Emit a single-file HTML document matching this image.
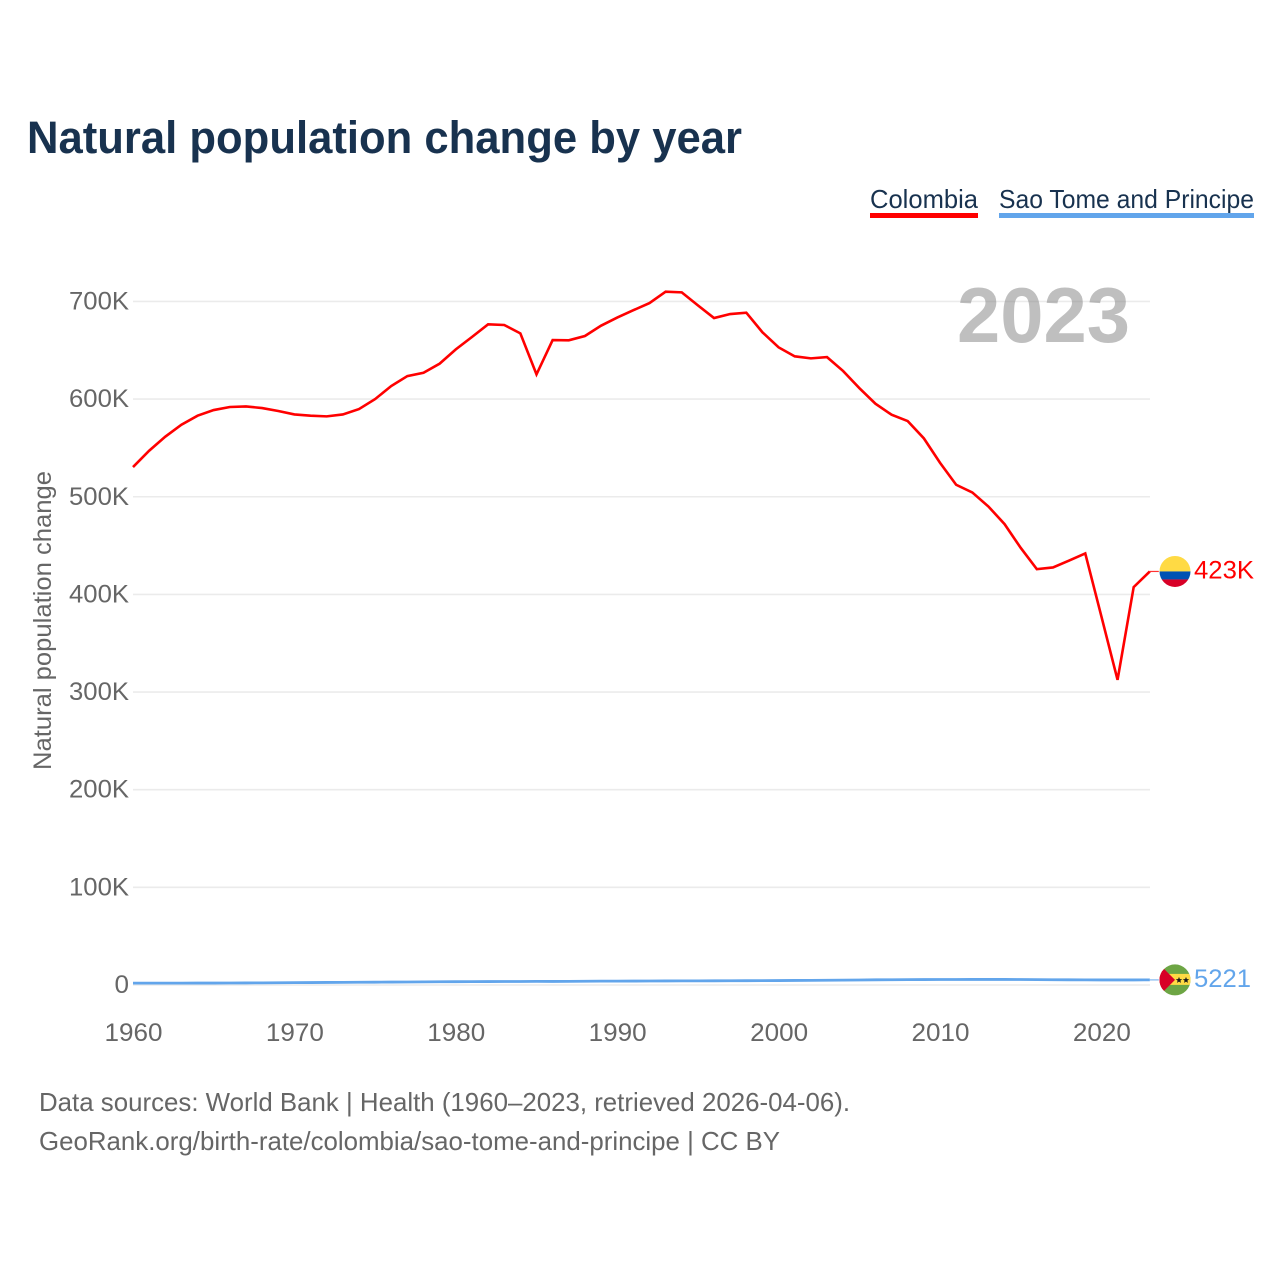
<!DOCTYPE html>
<html lang="en">
<head>
<meta charset="utf-8">
<title>Natural population change by year</title>
<style>
html,body{margin:0;padding:0;background:#fff;}
svg{display:block;font-family:"Liberation Sans",sans-serif;}
</style>
</head>
<body>
<svg id="chart" xmlns="http://www.w3.org/2000/svg" width="1280" height="1280" viewBox="0 0 1280 1280">
  <rect x="0" y="0" width="1280" height="1280" fill="#ffffff"/>
  <text x="27" y="153" font-size="45" font-weight="700" fill="#18324f" textLength="715" lengthAdjust="spacingAndGlyphs">Natural population change by year</text>
  <text x="870" y="208" font-size="26" fill="#18324f" textLength="108" lengthAdjust="spacingAndGlyphs">Colombia</text>
  <rect x="870" y="213" width="108" height="5" fill="#ff0000"/>
  <text x="999" y="208" font-size="26" fill="#18324f" textLength="255" lengthAdjust="spacingAndGlyphs">Sao Tome and Principe</text>
  <rect x="999" y="213" width="255" height="5" fill="#62a5eb"/>
  <g id="grid"></g>
  <text x="957" y="342" font-size="78" font-weight="700" fill="#808080" fill-opacity="0.5" textLength="173" lengthAdjust="spacingAndGlyphs">2023</text>
  <g id="yticks"></g>
  <g id="xticks"></g>
  <text transform="translate(51 770) rotate(-90)" font-size="25" fill="#666666" textLength="299" lengthAdjust="spacingAndGlyphs">Natural population change</text>
  <g id="series"></g>
  <g id="flag-colombia">
    <clipPath id="clip-co"><circle cx="0" cy="0" r="15.5"/></clipPath>
    <g clip-path="url(#clip-co)">
      <rect x="-16" y="-16" width="32" height="16" fill="#ffda44"/>
      <rect x="-16" y="0" width="32" height="8" fill="#0052b4"/>
      <rect x="-16" y="8" width="32" height="8" fill="#d80027"/>
    </g>
  </g>
  <g id="flag-sao-tome">
    <clipPath id="clip-st"><circle cx="0" cy="0" r="15.5"/></clipPath>
    <g clip-path="url(#clip-st)">
      <rect x="-16" y="-16" width="32" height="32" fill="#6da544"/>
      <rect x="-16" y="-6" width="32" height="11" fill="#ffda44"/>
      <polygon points="-16,-16 0,0 -16,16" fill="#d80027"/>
      <polygon points="-16,-13 -1,0 -16,13" fill="#d80027"/>
      <polygon points="4,-3 4.9,-0.8 7.2,-0.8 5.4,0.7 6,3 4,1.7 2,3 2.6,0.7 0.8,-0.8 3.1,-0.8" fill="#1a1a1a"/>
      <polygon points="11,-3 11.9,-0.8 14.2,-0.8 12.4,0.7 13,3 11,1.7 9,3 9.6,0.7 7.8,-0.8 10.1,-0.8" fill="#1a1a1a"/>
    </g>
  </g>
  <text id="label-colombia" x="1194" font-size="25" fill="#ff0000" textLength="60" lengthAdjust="spacingAndGlyphs"></text>
  <text id="label-sao-tome" x="1194" font-size="25" fill="#62a5eb" textLength="57" lengthAdjust="spacingAndGlyphs"></text>
  <text x="39" y="1111" font-size="26" fill="#666666" textLength="811" lengthAdjust="spacingAndGlyphs">Data sources: World Bank | Health (1960–2023, retrieved 2026-04-06).</text>
  <text x="39" y="1150" font-size="26" fill="#666666" textLength="741" lengthAdjust="spacingAndGlyphs">GeoRank.org/birth-rate/colombia/sao-tome-and-principe | CC BY</text>
</svg>
<script>
const startYear = 1960;
const yTickValues = [0, 100000, 200000, 300000, 400000, 500000, 600000, 700000];
const yTickLabels = ["0", "100K", "200K", "300K", "400K", "500K", "600K", "700K"];
const xTickYears = [1960, 1970, 1980, 1990, 2000, 2010, 2020];
const colombiaValues = [
  530400, 547100, 561500, 573800, 583000, 588800, 591900, 592500, 590800, 587800,
  584300, 583000, 582300, 584300, 589800, 600000, 613400, 623600, 627000, 636300,
  650900, 663600, 676600, 675900, 667300, 625300, 660500, 660200, 664600, 675200,
  683500, 691000, 698300, 710000, 709300, 696000, 683000, 687100, 688500, 668400,
  653000, 643800, 641700, 643000, 628700, 611300, 595300, 584000, 577500, 559800,
  534800, 512300, 504400, 490000, 472000, 447700, 425900, 427600, 434700, 441900,
  377400, 312500, 407500, 423500
];
const saoTomeValues = [
  1900, 1920, 1940, 1960, 1980, 2000, 2050, 2120, 2200, 2300,
  2400, 2500, 2600, 2700, 2800, 2900, 3000, 3100, 3200, 3300,
  3400, 3450, 3500, 3550, 3600, 3700, 3650, 3750, 3850, 3950,
  4000, 4050, 4100, 4150, 4200, 4250, 4300, 4350, 4400, 4450,
  4550, 4650, 4750, 4850, 5000, 5150, 5300, 5400, 5500, 5550,
  5600, 5650, 5700, 5700, 5700, 5650, 5500, 5400, 5300, 5250,
  5200, 5200, 5200, 5221
];
const latestLabelColombia = "423K";
const latestLabelSaoTome = "5221";

const NS = "http://www.w3.org/2000/svg";
function xScale(year) { return 133 + (year - 1960) * 16.14; }
function yScale(v) { return 985 - v * 97.65 / 100000; }
function make(tag, parent, attrs) {
  const el = document.createElementNS(NS, tag);
  for (const k in attrs) el.setAttribute(k, attrs[k]);
  parent.appendChild(el);
  return el;
}
const grid = document.getElementById("grid");
const yticks = document.getElementById("yticks");
const xticks = document.getElementById("xticks");
const series = document.getElementById("series");

yTickValues.forEach(function (v, i) {
  const line = make("line", grid, { x1: 133, x2: 1150, y1: yScale(v), y2: yScale(v), stroke: "#ebebeb", "stroke-width": 1.6 });
  
  
  const label = yTickLabels[i];
  const t = make("text", yticks, { x: 129, y: yScale(v) + 8, "text-anchor": "end", "font-size": 25, fill: "#666666", textLength: label.length > 1 ? 60 : 14.5, lengthAdjust: "spacingAndGlyphs" });
  t.textContent = label;
  
  
});

xTickYears.forEach(function (year) {
  const t = make("text", xticks, { x: xScale(year) + 0.5, y: 1041, "text-anchor": "middle", "font-size": 25, fill: "#666666", textLength: 58, lengthAdjust: "spacingAndGlyphs" });
  t.textContent = String(year);
  
  
});

function toPoints(values) {
  return values.map(function (v, i) { return xScale(startYear + i).toFixed(2) + "," + yScale(v).toFixed(2); }).join(" ");
}
function tail(values, color, name) {
  const lastX = xScale(startYear + values.length - 1);
  const lastY = yScale(values[values.length - 1]);
  const c = make("line", series, { x1: lastX, x2: lastX + 9, y1: lastY, y2: lastY, stroke: color, "stroke-width": 1.2, "stroke-opacity": 0.8 });
  
  
  return lastY;
}
const coTailY = tail(colombiaValues, "#ff0000", "connector-colombia");
const stTailY = tail(saoTomeValues, "#62a5eb", "connector-sao-tome");

const coLine = make("polyline", series, { points: toPoints(colombiaValues), fill: "none", stroke: "#ff0000", "stroke-width": 2.6, "stroke-linejoin": "miter" });


const stLine = make("polyline", series, { points: toPoints(saoTomeValues), fill: "none", stroke: "#62a5eb", "stroke-width": 2.8 });



document.getElementById("flag-colombia").setAttribute("transform", "translate(1175 " + coTailY.toFixed(2) + ")");
document.getElementById("flag-sao-tome").setAttribute("transform", "translate(1175 " + stTailY.toFixed(2) + ")");
const lc = document.getElementById("label-colombia");
lc.textContent = latestLabelColombia;
lc.setAttribute("y", (coTailY + 7).toFixed(2));
const ls = document.getElementById("label-sao-tome");
ls.textContent = latestLabelSaoTome;
ls.setAttribute("y", (stTailY + 7).toFixed(2));
</script>
</body>
</html>
